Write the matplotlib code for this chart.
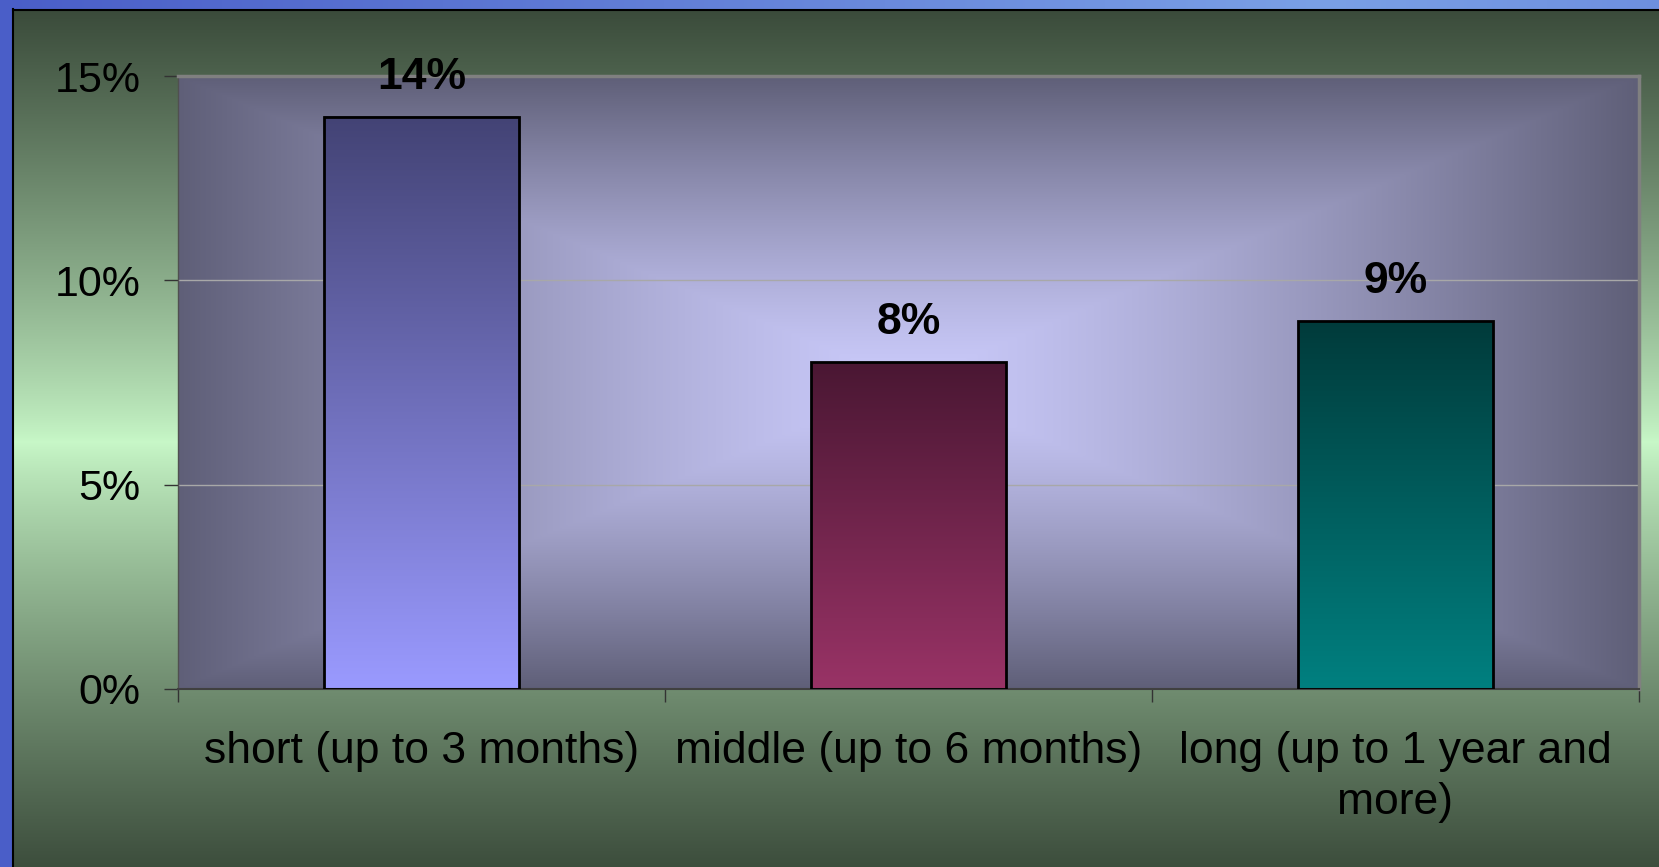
import numpy as np
import matplotlib
matplotlib.use("Agg")
import matplotlib.pyplot as plt
from matplotlib.colors import to_rgb
from matplotlib.lines import Line2D

categories = ["short (up to 3 months)", "middle (up to 6 months)",
              "long (up to 1 year and\nmore)"]
values = [14, 8, 9]
value_labels = ["14%", "8%", "9%"]
y_ticks = [0, 5, 10, 15]
y_tick_labels = ["0%", "5%", "10%", "15%"]
bar_top_colors = ["#434375", "#4a1733", "#003b3b"]
bar_bottom_colors = ["#9a9aff", "#993366", "#008080"]

plt.rcParams["font.family"] = ["Liberation Sans", "DejaVu Sans"]


def blend(c1, c2, t):
    c1 = np.array(to_rgb(c1))
    c2 = np.array(to_rgb(c2))
    t = np.clip(t, 0, 1)
    return c1 + (c2 - c1) * t[..., None]


W, H = 1659, 867
fig = plt.figure(figsize=(W / 100, H / 100), dpi=100)

# background of the whole picture: green, light in the middle
bg = fig.add_axes([0, 0, 1, 1], zorder=-10)
yy = np.linspace(0, 1, 500)[:, None] * np.ones((1, 2))
t = np.abs(yy - 0.49) / 0.51
bg.imshow(blend("#c8f8c8", "#384838", t ** 0.85), extent=[0, 1, 0, 1],
          aspect="auto", origin="lower", interpolation="bilinear")
# blue frame on left and top
xx = np.linspace(0, 1, 500)[None, :] * np.ones((2, 1))
tb = np.abs(xx - 0.8) / 0.8
bg.imshow(blend("#7aa0e6", "#4a5ec8", tb), extent=[0, 1, 1 - 9 / H, 1],
          aspect="auto", origin="lower", interpolation="bilinear")
bg.fill_between([0, 12 / W], 0, 1, color="#4a5ec8", lw=0)
bg.add_line(Line2D([12.5 / W, 12.5 / W], [0, 1 - 9 / H], color="black", lw=1.5))
bg.add_line(Line2D([12.5 / W, 1], [1 - 9.5 / H, 1 - 9.5 / H], color="black", lw=1.5))
bg.set_xlim(0, 1)
bg.set_ylim(0, 1)
bg.axis("off")

ax = fig.add_axes([178 / W, 1 - 689 / H, (1639 - 178) / W, (689 - 76) / H])

# plot area: light from the center
u = np.linspace(-1, 1, 600)
v = np.linspace(-1, 1, 300)
U, V = np.meshgrid(u, v)
tp = np.maximum(np.abs(U), np.abs(V))
ax.imshow(blend("#cacafa", "#5f5f78", tp ** 1.3), extent=[-0.5, 2.5, 0, 15],
          aspect="auto", origin="lower", zorder=0, interpolation="bilinear")

for y in [5, 10]:
    ax.axhline(y, color="#a8a8a8", lw=1, zorder=1)

x = np.arange(len(values))
bars = ax.bar(x, values, width=0.4, facecolor="none", edgecolor="black",
              linewidth=2, zorder=3)
for i, b in enumerate(bars):
    g = np.linspace(0, 1, 200)[:, None] * np.ones((1, 2))
    ax.imshow(blend(bar_bottom_colors[i], bar_top_colors[i], g),
              extent=[x[i] - 0.2, x[i] + 0.2, 0, values[i]],
              aspect="auto", origin="lower", zorder=2, interpolation="bilinear")
    ax.annotate(value_labels[i], (x[i], values[i]), xytext=(0, 20),
                textcoords="offset points", ha="center", va="baseline",
                fontsize=32, fontweight="bold", color="black")

ax.set_xlim(-0.5, 2.5)
ax.set_ylim(0, 15)

ax.set_yticks(y_ticks, y_tick_labels, fontsize=31)
ax.tick_params(axis="y", direction="out", length=10, width=1,
               color="#333333", pad=17)
ax.set_xticks(x, categories, fontsize=32)
ax.tick_params(axis="x", which="major", length=0, pad=30)
ax.set_xticks([-0.5, 0.5, 1.5, 2.5], minor=True)
ax.tick_params(axis="x", which="minor", direction="out", length=9, width=1,
               color="#333333")
for lbl in ax.get_xticklabels():
    lbl.set_linespacing(1.32)

for s in ["top", "right"]:
    ax.spines[s].set_color("#808080")
    ax.spines[s].set_linewidth(2.5)
ax.spines["left"].set_color("#505050")
ax.spines["left"].set_linewidth(1)
ax.spines["bottom"].set_color("#404040")
ax.spines["bottom"].set_linewidth(1.5)

fig.savefig("out.png", dpi=100)
